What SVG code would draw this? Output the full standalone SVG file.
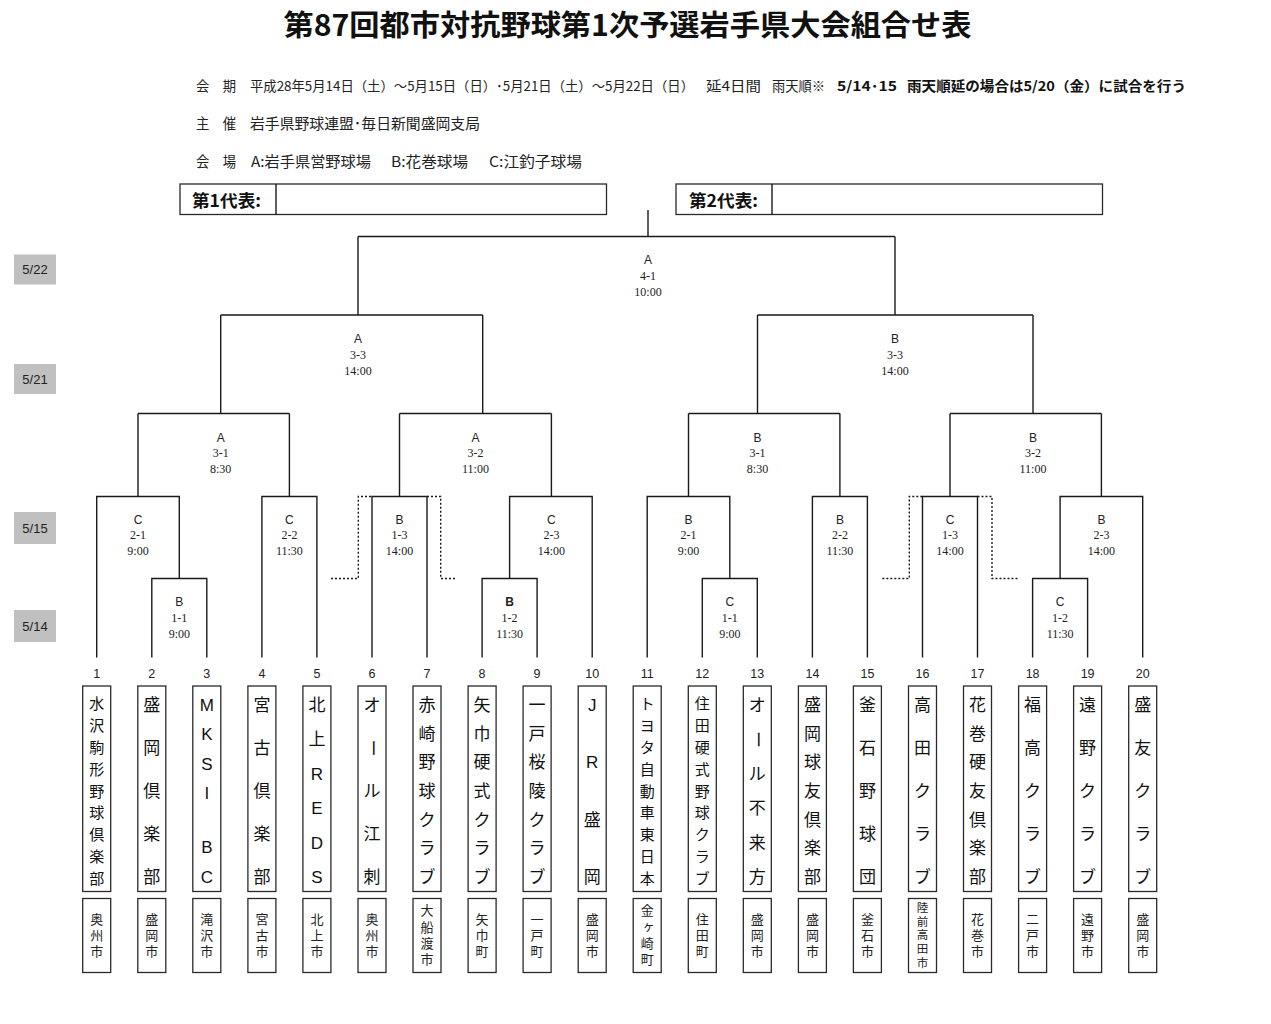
<svg xmlns="http://www.w3.org/2000/svg" width="1271" height="1024" viewBox="0 0 1271 1024">
<style>
.ln{stroke:#1a1a1a;stroke-width:1.4;fill:none}
.dot{stroke:#1a1a1a;stroke-width:1.4;fill:none;stroke-dasharray:2 2}
.box{fill:#fff;stroke:#2a2a2a;stroke-width:1.3}
.date{fill:#c0c0c0}
.dt{font-family:"Liberation Sans",sans-serif;font-size:13px;text-anchor:middle;dominant-baseline:central;fill:#222}
.v{font-family:"Liberation Sans",sans-serif;font-size:12px;text-anchor:middle;dominant-baseline:central;fill:#222}
.s{font-family:"Liberation Serif",serif;font-size:12px;text-anchor:middle;dominant-baseline:central;fill:#222}
.num{font-family:"Liberation Sans",sans-serif;font-size:12.5px;text-anchor:middle;dominant-baseline:central;fill:#222}
.nm{font-family:"Liberation Sans","Noto Sans CJK JP",sans-serif;font-size:17px;text-anchor:middle;dominant-baseline:central;fill:#111}
.nm9{font-size:15px}
.ct{font-family:"Noto Sans CJK JP",sans-serif;font-size:13px;text-anchor:middle;writing-mode:vertical-rl;letter-spacing:3px;fill:#222}
.ct4{letter-spacing:3.3px}
.ct5{font-size:11.5px;letter-spacing:2.3px}
.hd{font-family:"Noto Sans CJK JP",sans-serif;font-size:14.5px;dominant-baseline:central;fill:#222}
.h1{font-size:13.5px}
.b{font-weight:bold;fill:#111}
.title{font-family:"Noto Sans CJK JP",sans-serif;font-size:29px;font-weight:bold;text-anchor:middle;dominant-baseline:central;fill:#111}
</style>
<rect width="1271" height="1024" fill="#fff"/>
<g id="title"><text class="title" x="627.5" y="23" textLength="688" lengthAdjust="spacingAndGlyphs">第87回都市対抗野球第1次予選岩手県大会組合せ表</text></g>
<g id="header">
<text class="hd h1" x="196" y="84.5" textLength="40" lengthAdjust="spacingAndGlyphs">会　期</text>
<text class="hd h1" x="250" y="84.5" textLength="444" lengthAdjust="spacingAndGlyphs">平成28年5月14日（土）～5月15日（日）･5月21日（土）～5月22日（日）</text>
<text class="hd h1" x="706" y="84.5" textLength="55" lengthAdjust="spacingAndGlyphs">延4日間</text>
<text class="hd h1" x="772" y="84.5" textLength="53" lengthAdjust="spacingAndGlyphs">雨天順※</text>
<text class="hd h1 b" x="837" y="84.5" textLength="60" lengthAdjust="spacingAndGlyphs">5/14･15</text>
<text class="hd h1 b" x="907" y="84.5" textLength="279" lengthAdjust="spacingAndGlyphs">雨天順延の場合は5/20（金）に試合を行う</text>
<text class="hd" x="196" y="122.5" textLength="40" lengthAdjust="spacingAndGlyphs">主　催</text>
<text class="hd" x="250" y="122.5" textLength="230" lengthAdjust="spacingAndGlyphs">岩手県野球連盟･毎日新聞盛岡支局</text>
<text class="hd" x="196" y="160.5" textLength="40" lengthAdjust="spacingAndGlyphs">会　場</text>
<text class="hd" x="251" y="160.5" textLength="120" lengthAdjust="spacingAndGlyphs">A:岩手県営野球場</text>
<text class="hd" x="391" y="160.5" textLength="77" lengthAdjust="spacingAndGlyphs">B:花巻球場</text>
<text class="hd" x="489" y="160.5" textLength="93" lengthAdjust="spacingAndGlyphs">C:江釣子球場</text>
</g>
<g id="rep1">
<rect class="box" x="180" y="184" width="426.5" height="30.5"/>
<line class="ln" x1="276" y1="184" x2="276" y2="214.5"/>
<text class="hd b" x="192" y="199.5" style="font-size:17px" textLength="69" lengthAdjust="spacingAndGlyphs">第1代表:</text>
</g>
<g id="rep2">
<rect class="box" x="676" y="184" width="426.5" height="30.5"/>
<line class="ln" x1="772" y1="184" x2="772" y2="214.5"/>
<text class="hd b" x="689" y="199.5" style="font-size:17px" textLength="69" lengthAdjust="spacingAndGlyphs">第2代表:</text>
</g>
<g id="dates">
<rect class="date" x="14" y="254.5" width="42" height="30"/><text class="dt" x="35" y="269.5">5/22</text>
<rect class="date" x="14" y="364" width="42" height="30"/><text class="dt" x="35" y="379">5/21</text>
<rect class="date" x="14" y="512" width="42" height="32"/><text class="dt" x="35" y="528">5/15</text>
<rect class="date" x="14" y="610" width="42" height="32"/><text class="dt" x="35" y="626">5/14</text>
</g>
<g id="connectors">
<path class="ln" d="M96.7 657.5V496.5H179.3V578.5M151.8 657.5V578.5H206.8V657.5M138 496.5V413.5"/>
<path class="ln" d="M261.9 657.5V496.5H316.9V657.5M289.4 496.5V413.5"/>
<path class="ln" d="M138 413.5H289.4M220.7 413.5V315"/>
<path class="ln" d="M372 657.5V496.5H427V657.5M399.5 496.5V413.5"/>
<path class="ln" d="M482.1 657.5V578.5H537.1V657.5M509.6 578.5V496.5H592.2V657.5M551.4 496.5V413.5"/>
<path class="ln" d="M399.5 413.5H551.4M482.7 413.5V315"/>
<path class="ln" d="M220.7 315H482.7M358 315V236.5"/>
<path class="ln" d="M647.2 657.5V496.5H729.8V578.5M702.3 657.5V578.5H757.3V657.5M688.5 496.5V413.5"/>
<path class="ln" d="M812.4 657.5V496.5H867.4V657.5M839.9 496.5V413.5"/>
<path class="ln" d="M688.5 413.5H839.9M757.5 413.5V315"/>
<path class="ln" d="M922.5 657.5V496.5H977.5V657.5M950 496.5V413.5"/>
<path class="ln" d="M1032.6 657.5V578.5H1087.6V657.5M1060.1 578.5V496.5H1142.7V657.5M1101.4 496.5V413.5"/>
<path class="ln" d="M950 413.5H1101.4M1033 413.5V315"/>
<path class="ln" d="M757.5 315H1033M895 315V236.5"/>
<path class="ln" d="M358 236.5H895M648 236.5V210"/>
<path class="dot" d="M331 578.5H358.3V496.5H372"/>
<path class="dot" d="M427 496.5H440.7V578.5H455.7"/>
<path class="dot" d="M882.3 578.5H909.3V496.5H922.5"/>
<path class="dot" d="M977.5 496.5H992V578.5H1017.7"/>
</g>
<g id="m-final"><text class="v" x="648" y="260">A</text><text class="s" x="648" y="276">4-1</text><text class="s" x="648" y="292">10:00</text></g>
<g id="m-A3-3"><text class="v" x="358" y="339">A</text><text class="s" x="358" y="355">3-3</text><text class="s" x="358" y="371">14:00</text></g>
<g id="m-B3-3"><text class="v" x="895" y="339">B</text><text class="s" x="895" y="355">3-3</text><text class="s" x="895" y="371">14:00</text></g>
<g id="m-A3-1"><text class="v" x="220.7" y="437.5">A</text><text class="s" x="220.7" y="453.3">3-1</text><text class="s" x="220.7" y="469">8:30</text></g>
<g id="m-A3-2"><text class="v" x="475.5" y="437.5">A</text><text class="s" x="475.5" y="453.3">3-2</text><text class="s" x="475.5" y="469">11:00</text></g>
<g id="m-B3-1"><text class="v" x="757.5" y="437.5">B</text><text class="s" x="757.5" y="453.3">3-1</text><text class="s" x="757.5" y="469">8:30</text></g>
<g id="m-B3-2"><text class="v" x="1033" y="437.5">B</text><text class="s" x="1033" y="453.3">3-2</text><text class="s" x="1033" y="469">11:00</text></g>
<g id="m-C2-1"><text class="v" x="138" y="519.5">C</text><text class="s" x="138" y="535">2-1</text><text class="s" x="138" y="550.7">9:00</text></g>
<g id="m-C2-2"><text class="v" x="289.4" y="519.5">C</text><text class="s" x="289.4" y="535">2-2</text><text class="s" x="289.4" y="550.7">11:30</text></g>
<g id="m-B1-3"><text class="v" x="399.5" y="519.5">B</text><text class="s" x="399.5" y="535">1-3</text><text class="s" x="399.5" y="550.7">14:00</text></g>
<g id="m-C2-3"><text class="v" x="551.4" y="519.5">C</text><text class="s" x="551.4" y="535">2-3</text><text class="s" x="551.4" y="550.7">14:00</text></g>
<g id="m-B2-1"><text class="v" x="688.5" y="519.5">B</text><text class="s" x="688.5" y="535">2-1</text><text class="s" x="688.5" y="550.7">9:00</text></g>
<g id="m-B2-2"><text class="v" x="839.9" y="519.5">B</text><text class="s" x="839.9" y="535">2-2</text><text class="s" x="839.9" y="550.7">11:30</text></g>
<g id="m-C1-3"><text class="v" x="950" y="519.5">C</text><text class="s" x="950" y="535">1-3</text><text class="s" x="950" y="550.7">14:00</text></g>
<g id="m-B2-3"><text class="v" x="1101.4" y="519.5">B</text><text class="s" x="1101.4" y="535">2-3</text><text class="s" x="1101.4" y="550.7">14:00</text></g>
<g id="m-B1-1"><text class="v" x="179.3" y="602.3">B</text><text class="s" x="179.3" y="618">1-1</text><text class="s" x="179.3" y="633.7">9:00</text></g>
<g id="m-B1-2"><text class="v" x="509.6" y="602.3" font-weight="bold">B</text><text class="s" x="509.6" y="618">1-2</text><text class="s" x="509.6" y="633.7">11:30</text></g>
<g id="m-C1-1"><text class="v" x="729.8" y="602.3">C</text><text class="s" x="729.8" y="618">1-1</text><text class="s" x="729.8" y="633.7">9:00</text></g>
<g id="m-C1-2"><text class="v" x="1060.1" y="602.3">C</text><text class="s" x="1060.1" y="618">1-2</text><text class="s" x="1060.1" y="633.7">11:30</text></g>

<g id="team-1"><rect class="box" x="82.7" y="686" width="28" height="205.5"/><rect class="box" x="82.7" y="898.5" width="28" height="74"/><text class="num" x="96.7" y="674">1</text>
<text class="nm nm9"><tspan x="96.7" y="703">水</tspan><tspan x="96.7" y="724.9">沢</tspan><tspan x="96.7" y="746.8">駒</tspan><tspan x="96.7" y="768.6">形</tspan><tspan x="96.7" y="790.5">野</tspan><tspan x="96.7" y="812.4">球</tspan><tspan x="96.7" y="834.3">倶</tspan><tspan x="96.7" y="856.1">楽</tspan><tspan x="96.7" y="878">部</tspan></text>
<text class="ct" x="96.7" y="936.5">奥州市</text></g>

<g id="team-2"><rect class="box" x="137.8" y="686" width="28" height="205.5"/><rect class="box" x="137.8" y="898.5" width="28" height="74"/><text class="num" x="151.8" y="674">2</text>
<text class="nm"><tspan x="151.8" y="705">盛</tspan><tspan x="151.8" y="748">岡</tspan><tspan x="151.8" y="791">倶</tspan><tspan x="151.8" y="834">楽</tspan><tspan x="151.8" y="877">部</tspan></text>
<text class="ct" x="151.8" y="936.5">盛岡市</text></g>

<g id="team-3"><rect class="box" x="192.8" y="686" width="28" height="205.5"/><rect class="box" x="192.8" y="898.5" width="28" height="74"/><text class="num" x="206.8" y="674">3</text>
<text class="nm"><tspan x="206.8" y="705">M</tspan><tspan x="206.8" y="734">K</tspan><tspan x="206.8" y="763.5">S</tspan><tspan x="206.8" y="793">I</tspan><tspan x="206.8" y="847">B</tspan><tspan x="206.8" y="877">C</tspan></text>
<text class="ct" x="206.8" y="936.5">滝沢市</text></g>

<g id="team-4"><rect class="box" x="247.9" y="686" width="28" height="205.5"/><rect class="box" x="247.9" y="898.5" width="28" height="74"/><text class="num" x="261.9" y="674">4</text>
<text class="nm"><tspan x="261.9" y="705">宮</tspan><tspan x="261.9" y="748">古</tspan><tspan x="261.9" y="791">倶</tspan><tspan x="261.9" y="834">楽</tspan><tspan x="261.9" y="877">部</tspan></text>
<text class="ct" x="261.9" y="936.5">宮古市</text></g>

<g id="team-5"><rect class="box" x="302.9" y="686" width="28" height="205.5"/><rect class="box" x="302.9" y="898.5" width="28" height="74"/><text class="num" x="316.9" y="674">5</text>
<text class="nm"><tspan x="316.9" y="705">北</tspan><tspan x="316.9" y="739.4">上</tspan><tspan x="316.9" y="773.8">R</tspan><tspan x="316.9" y="808.2">E</tspan><tspan x="316.9" y="842.6">D</tspan><tspan x="316.9" y="877">S</tspan></text>
<text class="ct" x="316.9" y="936.5">北上市</text></g>

<g id="team-6"><rect class="box" x="358" y="686" width="28" height="205.5"/><rect class="box" x="358" y="898.5" width="28" height="74"/><text class="num" x="372" y="674">6</text>
<text class="nm"><tspan x="372" y="705">オ</tspan></text><text class="nm" x="372" y="748" transform="rotate(90 372 748)">ー</text><text class="nm"><tspan x="372" y="791">ル</tspan><tspan x="372" y="834">江</tspan><tspan x="372" y="877">刺</tspan></text>
<text class="ct" x="372" y="936.5">奥州市</text></g>

<g id="team-7"><rect class="box" x="413" y="686" width="28" height="205.5"/><rect class="box" x="413" y="898.5" width="28" height="74"/><text class="num" x="427" y="674">7</text>
<text class="nm"><tspan x="427" y="705">赤</tspan><tspan x="427" y="733.7">崎</tspan><tspan x="427" y="762.3">野</tspan><tspan x="427" y="791">球</tspan><tspan x="427" y="819.7">ク</tspan><tspan x="427" y="848.3">ラ</tspan><tspan x="427" y="877">ブ</tspan></text>
<text class="ct ct4" x="427" y="936.6">大船渡市</text></g>

<g id="team-8"><rect class="box" x="468.1" y="686" width="28" height="205.5"/><rect class="box" x="468.1" y="898.5" width="28" height="74"/><text class="num" x="482.1" y="674">8</text>
<text class="nm"><tspan x="482.1" y="705">矢</tspan><tspan x="482.1" y="733.7">巾</tspan><tspan x="482.1" y="762.3">硬</tspan><tspan x="482.1" y="791">式</tspan><tspan x="482.1" y="819.7">ク</tspan><tspan x="482.1" y="848.3">ラ</tspan><tspan x="482.1" y="877">ブ</tspan></text>
<text class="ct" x="482.1" y="936.5">矢巾町</text></g>

<g id="team-9"><rect class="box" x="523.1" y="686" width="28" height="205.5"/><rect class="box" x="523.1" y="898.5" width="28" height="74"/><text class="num" x="537.1" y="674">9</text>
<text class="nm"><tspan x="537.1" y="705">一</tspan><tspan x="537.1" y="733.7">戸</tspan><tspan x="537.1" y="762.3">桜</tspan><tspan x="537.1" y="791">陵</tspan><tspan x="537.1" y="819.7">ク</tspan><tspan x="537.1" y="848.3">ラ</tspan><tspan x="537.1" y="877">ブ</tspan></text>
<text class="ct" x="537.1" y="936.5">一戸町</text></g>

<g id="team-10"><rect class="box" x="578.2" y="686" width="28" height="205.5"/><rect class="box" x="578.2" y="898.5" width="28" height="74"/><text class="num" x="592.2" y="674">10</text>
<text class="nm"><tspan x="592.2" y="705">J</tspan><tspan x="592.2" y="762.3">R</tspan><tspan x="592.2" y="819.7">盛</tspan><tspan x="592.2" y="877">岡</tspan></text>
<text class="ct" x="592.2" y="936.5">盛岡市</text></g>

<g id="team-11"><rect class="box" x="633.2" y="686" width="28" height="205.5"/><rect class="box" x="633.2" y="898.5" width="28" height="74"/><text class="num" x="647.2" y="674">11</text>
<text class="nm nm9"><tspan x="647.2" y="703">ト</tspan><tspan x="647.2" y="724.9">ヨ</tspan><tspan x="647.2" y="746.8">タ</tspan><tspan x="647.2" y="768.6">自</tspan><tspan x="647.2" y="790.5">動</tspan><tspan x="647.2" y="812.4">車</tspan><tspan x="647.2" y="834.3">東</tspan><tspan x="647.2" y="856.1">日</tspan><tspan x="647.2" y="878">本</tspan></text>
<text class="ct ct4" x="647.2" y="936.6">金ヶ崎町</text></g>

<g id="team-12"><rect class="box" x="688.3" y="686" width="28" height="205.5"/><rect class="box" x="688.3" y="898.5" width="28" height="74"/><text class="num" x="702.3" y="674">12</text>
<text class="nm nm9"><tspan x="702.3" y="703">住</tspan><tspan x="702.3" y="724.9">田</tspan><tspan x="702.3" y="746.8">硬</tspan><tspan x="702.3" y="768.6">式</tspan><tspan x="702.3" y="790.5">野</tspan><tspan x="702.3" y="812.4">球</tspan><tspan x="702.3" y="834.3">ク</tspan><tspan x="702.3" y="856.1">ラ</tspan><tspan x="702.3" y="878">ブ</tspan></text>
<text class="ct" x="702.3" y="936.5">住田町</text></g>

<g id="team-13"><rect class="box" x="743.3" y="686" width="28" height="205.5"/><rect class="box" x="743.3" y="898.5" width="28" height="74"/><text class="num" x="757.3" y="674">13</text>
<text class="nm"><tspan x="757.3" y="705">オ</tspan></text><text class="nm" x="757.3" y="739.4" transform="rotate(90 757.3 739.4)">ー</text><text class="nm"><tspan x="757.3" y="773.8">ル</tspan><tspan x="757.3" y="808.2">不</tspan><tspan x="757.3" y="842.6">来</tspan><tspan x="757.3" y="877">方</tspan></text>
<text class="ct" x="757.3" y="936.5">盛岡市</text></g>

<g id="team-14"><rect class="box" x="798.4" y="686" width="28" height="205.5"/><rect class="box" x="798.4" y="898.5" width="28" height="74"/><text class="num" x="812.4" y="674">14</text>
<text class="nm"><tspan x="812.4" y="705">盛</tspan><tspan x="812.4" y="733.7">岡</tspan><tspan x="812.4" y="762.3">球</tspan><tspan x="812.4" y="791">友</tspan><tspan x="812.4" y="819.7">倶</tspan><tspan x="812.4" y="848.3">楽</tspan><tspan x="812.4" y="877">部</tspan></text>
<text class="ct" x="812.4" y="936.5">盛岡市</text></g>

<g id="team-15"><rect class="box" x="853.4" y="686" width="28" height="205.5"/><rect class="box" x="853.4" y="898.5" width="28" height="74"/><text class="num" x="867.4" y="674">15</text>
<text class="nm"><tspan x="867.4" y="705">釜</tspan><tspan x="867.4" y="748">石</tspan><tspan x="867.4" y="791">野</tspan><tspan x="867.4" y="834">球</tspan><tspan x="867.4" y="877">団</tspan></text>
<text class="ct" x="867.4" y="936.5">釜石市</text></g>

<g id="team-16"><rect class="box" x="908.5" y="686" width="28" height="205.5"/><rect class="box" x="908.5" y="898.5" width="28" height="74"/><text class="num" x="922.5" y="674">16</text>
<text class="nm"><tspan x="922.5" y="705">高</tspan><tspan x="922.5" y="748">田</tspan><tspan x="922.5" y="791">ク</tspan><tspan x="922.5" y="834">ラ</tspan><tspan x="922.5" y="877">ブ</tspan></text>
<text class="ct ct5" x="922.5" y="936.2">陸前高田市</text></g>

<g id="team-17"><rect class="box" x="963.5" y="686" width="28" height="205.5"/><rect class="box" x="963.5" y="898.5" width="28" height="74"/><text class="num" x="977.5" y="674">17</text>
<text class="nm"><tspan x="977.5" y="705">花</tspan><tspan x="977.5" y="733.7">巻</tspan><tspan x="977.5" y="762.3">硬</tspan><tspan x="977.5" y="791">友</tspan><tspan x="977.5" y="819.7">倶</tspan><tspan x="977.5" y="848.3">楽</tspan><tspan x="977.5" y="877">部</tspan></text>
<text class="ct" x="977.5" y="936.5">花巻市</text></g>

<g id="team-18"><rect class="box" x="1018.6" y="686" width="28" height="205.5"/><rect class="box" x="1018.6" y="898.5" width="28" height="74"/><text class="num" x="1032.6" y="674">18</text>
<text class="nm"><tspan x="1032.6" y="705">福</tspan><tspan x="1032.6" y="748">高</tspan><tspan x="1032.6" y="791">ク</tspan><tspan x="1032.6" y="834">ラ</tspan><tspan x="1032.6" y="877">ブ</tspan></text>
<text class="ct" x="1032.6" y="936.5">二戸市</text></g>

<g id="team-19"><rect class="box" x="1073.6" y="686" width="28" height="205.5"/><rect class="box" x="1073.6" y="898.5" width="28" height="74"/><text class="num" x="1087.6" y="674">19</text>
<text class="nm"><tspan x="1087.6" y="705">遠</tspan><tspan x="1087.6" y="748">野</tspan><tspan x="1087.6" y="791">ク</tspan><tspan x="1087.6" y="834">ラ</tspan><tspan x="1087.6" y="877">ブ</tspan></text>
<text class="ct" x="1087.6" y="936.5">遠野市</text></g>

<g id="team-20"><rect class="box" x="1128.7" y="686" width="28" height="205.5"/><rect class="box" x="1128.7" y="898.5" width="28" height="74"/><text class="num" x="1142.7" y="674">20</text>
<text class="nm"><tspan x="1142.7" y="705">盛</tspan><tspan x="1142.7" y="748">友</tspan><tspan x="1142.7" y="791">ク</tspan><tspan x="1142.7" y="834">ラ</tspan><tspan x="1142.7" y="877">ブ</tspan></text>
<text class="ct" x="1142.7" y="936.5">盛岡市</text></g>
</svg>
